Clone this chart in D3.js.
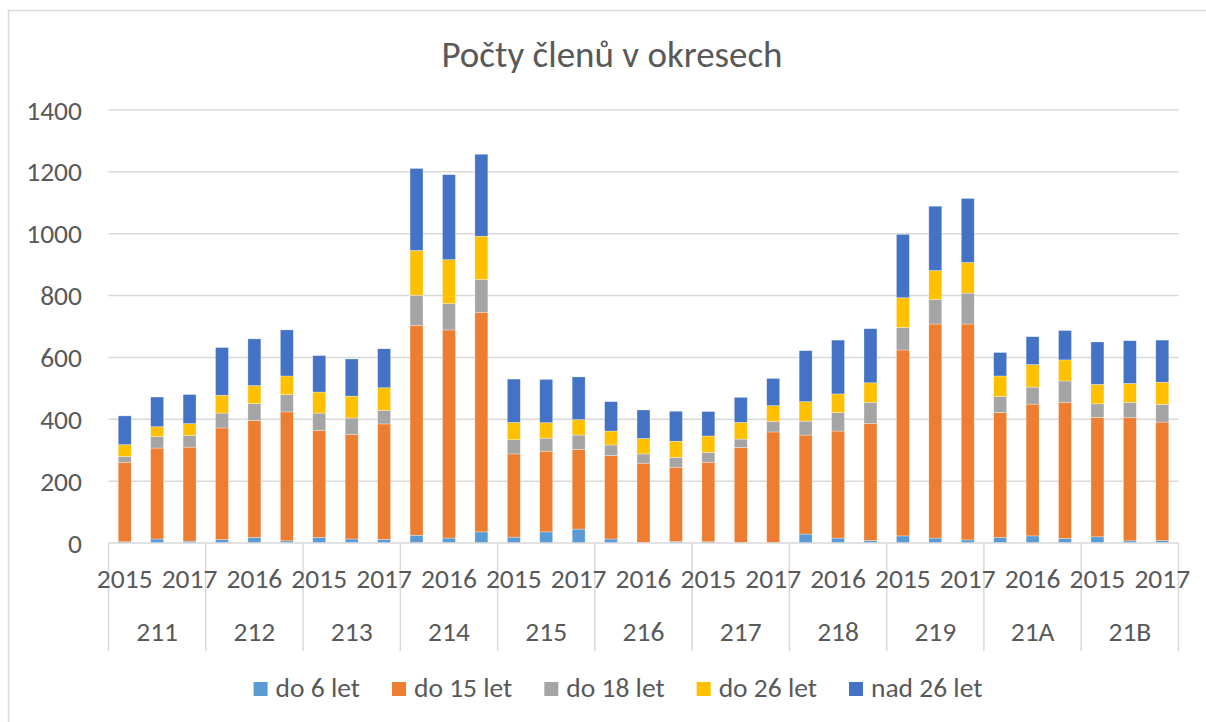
<!DOCTYPE html>
<html>
<head>
<meta charset="utf-8">
<script src="https://cdn.jsdelivr.net/npm/d3@7"></script>
<style>
  body { margin: 0; background: #fff; }
  text { font-family: Calibri, 'Open Sans', sans-serif; fill: #595959; }
</style>
</head>
<body>
<div id="chart"></div>
<script>
// Počty členů v okresech - stacked columns, district x year

const districts = ['211', '212', '213', '214', '215', '216', '217', '218', '219', '21A', '21B'];
const years = ['2015', '2016', '2017'];
const seriesNames = ['do 6 let', 'do 15 let', 'do 18 let', 'do 26 let', 'nad 26 let'];
const seriesColors = ['#5B9BD5', '#ED7D31', '#A5A5A5', '#FFC000', '#4472C4'];
const yTicks = [0, 200, 400, 600, 800, 1000, 1200, 1400];

// values per bar: 211-2015, 211-2016, 211-2017, 212-2015, ...
const do6 = [4, 13, 6, 11, 18, 7, 18, 13, 12, 25, 16, 36, 19, 36, 45, 13, 2, 5, 4, 1, 1, 29, 16, 8, 23, 16, 10, 18, 23, 15, 20, 7, 8];
const do15 = [257, 294, 304, 361, 378, 417, 346, 338, 373, 679, 673, 710, 269, 261, 257, 270, 256, 240, 257, 308, 358, 320, 346, 379, 601, 692, 698, 404, 426, 440, 386, 398, 383];
const do18 = [19, 37, 38, 48, 55, 56, 56, 53, 44, 97, 85, 106, 46, 42, 47, 34, 30, 32, 32, 27, 34, 45, 60, 68, 73, 79, 100, 52, 55, 69, 44, 50, 57];
const do26 = [38, 32, 38, 58, 58, 60, 68, 71, 73, 145, 142, 140, 56, 50, 50, 45, 50, 52, 53, 54, 51, 63, 60, 63, 96, 94, 99, 66, 73, 68, 63, 61, 72];
const nad26 = [93, 96, 94, 154, 151, 149, 118, 120, 126, 265, 275, 265, 140, 140, 138, 95, 92, 97, 79, 81, 88, 165, 174, 175, 205, 208, 207, 76, 90, 95, 137, 138, 136];

const width = 1206;
const height = 722;
const plot = { left: 108.5, right: 1178.5, top: 110, bottom: 543 };

const svg = d3.select('#chart')
    .append('svg')
    .attr('width', width)
    .attr('height', height);

// chart area outline
svg.append('rect')
    .attr('x', 8.5)
    .attr('y', 10.5)
    .attr('width', 1220)
    .attr('height', 740)
    .attr('fill', 'none')
    .attr('stroke', '#d9d9d9')
    .attr('stroke-width', 1.5);

// build rows, one per bar
const rows = [];
districts.forEach((d, di) => {
    years.forEach((y, yi) => {
        const i = di * years.length + yi;
        rows.push({
            key: d + '-' + y, district: d, year: y,
            'do 6 let': do6[i], 'do 15 let': do15[i], 'do 18 let': do18[i],
            'do 26 let': do26[i], 'nad 26 let': nad26[i]
        });
    });
});

const x = d3.scaleBand()
    .domain(rows.map(r => r.key))
    .range([plot.left, plot.right])
    .paddingInner(0.6)
    .paddingOuter(0.3);

const xGroup = d3.scaleBand()
    .domain(districts)
    .range([plot.left, plot.right]);

const y = d3.scaleLinear()
    .domain([0, 1400])
    .range([plot.bottom, plot.top]);

const color = d3.scaleOrdinal()
    .domain(seriesNames)
    .range(seriesColors);

// gridlines
svg.append('g')
    .selectAll('line')
    .data(yTicks.filter(t => t > 0))
    .enter()
    .append('line')
    .attr('x1', plot.left)
    .attr('x2', plot.right)
    .attr('y1', d => y(d))
    .attr('y2', d => y(d))
    .attr('stroke', '#d9d9d9')
    .attr('stroke-width', 1.5);

// y axis labels
svg.append('g')
    .selectAll('text')
    .data(yTicks)
    .enter()
    .append('text')
    .attr('x', 82)
    .attr('y', d => y(d))
    .attr('dy', '0.35em')
    .attr('text-anchor', 'end')
    .attr('font-size', '27.5px')
    .text(d => d);

// stacked bars
const stacked = d3.stack().keys(seriesNames)(rows);

svg.append('g')
    .selectAll('g')
    .data(stacked)
    .enter()
    .append('g')
    .attr('fill', d => color(d.key))
    .selectAll('rect')
    .data(d => d)
    .enter()
    .append('rect')
    .attr('x', d => x(d.data.key))
    .attr('width', x.bandwidth())
    .attr('y', d => y(d[1]))
    .attr('height', d => y(d[0]) - y(d[1]))
    .attr('stroke', '#ffffff')
    .attr('stroke-opacity', 0.5)
    .attr('stroke-width', 0.6);

// category axis line + group separators
svg.append('line')
    .attr('x1', plot.left)
    .attr('x2', plot.right)
    .attr('y1', plot.bottom)
    .attr('y2', plot.bottom)
    .attr('stroke', '#d9d9d9')
    .attr('stroke-width', 1.5);

const bounds = districts.map(d => xGroup(d)).concat([plot.right]);
svg.append('g')
    .selectAll('line')
    .data(bounds)
    .enter()
    .append('line')
    .attr('x1', d => d)
    .attr('x2', d => d)
    .attr('y1', plot.bottom)
    .attr('y2', 651)
    .attr('stroke', '#d9d9d9')
    .attr('stroke-width', 1.5);

// year labels - excel skips every other one
svg.append('g')
    .selectAll('text')
    .data(rows.filter((r, i) => i % 2 === 0))
    .enter()
    .append('text')
    .attr('x', d => x(d.key) + x.bandwidth() / 2)
    .attr('y', 588)
    .attr('text-anchor', 'middle')
    .attr('font-size', '27.5px')
    .text(d => d.year);

// district labels
svg.append('g')
    .selectAll('text')
    .data(districts)
    .enter()
    .append('text')
    .attr('x', d => xGroup(d) + xGroup.bandwidth() / 2)
    .attr('y', 641)
    .attr('text-anchor', 'middle')
    .attr('font-size', '27.5px')
    .text(d => d);

// title
svg.append('text')
    .attr('x', 612)
    .attr('y', 67)
    .attr('text-anchor', 'middle')
    .attr('font-size', '37px')
    .text('Počty členů v okresech');

// legend, laid out from measured text widths and centred
const legend = svg.append('g');
const items = legend.selectAll('g')
    .data(seriesNames)
    .enter()
    .append('g');

items.append('rect')
    .attr('x', 0)
    .attr('y', 682)
    .attr('width', 14)
    .attr('height', 14)
    .attr('fill', d => color(d));

items.append('text')
    .attr('x', 22)
    .attr('y', 697)
    .attr('font-size', '27.5px')
    .text(d => d);

let offset = 0;
const offsets = [];
items.each(function() {
    offsets.push(offset);
    const w = d3.select(this).select('text').node().getComputedTextLength();
    offset += 22 + w + 32;
});
const total = offset - 32;
const startX = 618 - total / 2;
items.attr('transform', (d, i) => `translate(${startX + offsets[i]},0)`);
</script>
</body>
</html>
